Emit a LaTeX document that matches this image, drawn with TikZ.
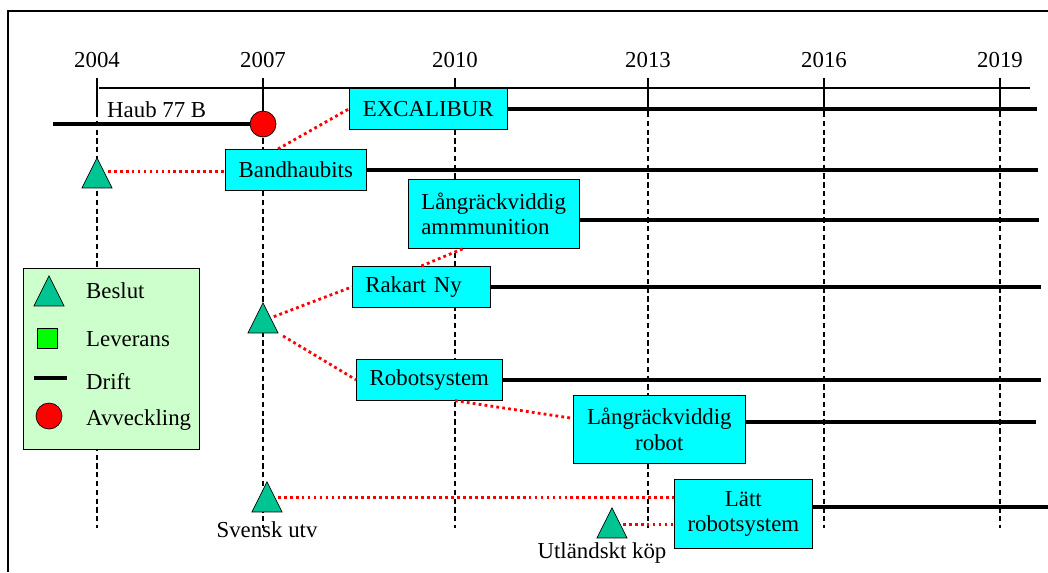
\documentclass[tikz,border=0pt]{standalone}
\usepackage{fontspec}
\setmainfont{Liberation Serif}
\usetikzlibrary{shapes.geometric}
\definecolor{boxcyan}{RGB}{0,255,255}
\definecolor{beslut}{RGB}{0,196,146}
\definecolor{legbg}{RGB}{204,255,204}
\definecolor{lev}{RGB}{0,255,0}
\tikzset{
	every node/.style={font=\rmfamily\fontsize{13}{14.5}\selectfont},
	box/.style={draw, fill=boxcyan, anchor=north west, inner sep=0pt},
	tri/.style={draw, fill=beslut, isosceles triangle, isosceles triangle stretches,
		shape border rotate=90, minimum width=.6cm, minimum height=.6cm, inner sep=0pt, anchor=apex},
	avv/.style={draw, circle, fill=red, minimum size=.52cm, inner sep=0pt},
	drift/.style={line width=2.2pt},
	plan/.style={red, line width=1.6pt, dash pattern=on 1.6pt off 1.8pt},
	yearline/.style={line width=.6pt, dash pattern=on 3pt off 2pt},
}

\begin{document}
\begin{tikzpicture}[x=.02cm, y=-.02cm]
	\useasboundingbox (0, 0) rectangle (1048, 572);
	\draw[line width=.8pt](8, 572)--(8, 11)--(1048, 11);
	% years
	\foreach \yr/\xx in {2004/97, 2007/263, 2010/455, 2013/648, 2016/824, 2019/1000}{
		\node (y\yr) at(\xx, 60){\yr};
		\draw[line width=.6pt](\xx, 78)--(\xx, 112);
		\draw[yearline](\xx, 112)--(\xx, 528);
	}
	\draw[line width=.6pt](99, 88)--(1030, 88);
	% Haub 77 B
	\node[avv] (avv) at(263, 124){};
	\draw[drift](53, 124)--(avv.west);
	\node[anchor=west] (haub) at(101, 110){Haub 77 B};
	% systems
	\node[box, minimum width=3.16cm, minimum height=.82cm] (ex) at(349, 88){EXCALIBUR};
	\node[box, minimum width=2.82cm, minimum height=.82cm] (bh) at(225, 149){Bandhaubits};
	\node[box, minimum width=3.42cm, minimum height=1.38cm, text width=2.9cm, align=left] (am) at(408, 179){Långräckviddig\\ammmunition};
	\node[box, minimum width=2.76cm, minimum height=.82cm, text width=2.24cm, align=left] (rk) at(352, 266){Rakart Ny};
	\node[box, minimum width=2.92cm, minimum height=.82cm] (rs) at(356, 359){Robotsystem};
	\node[box, minimum width=3.44cm, minimum height=1.36cm, align=center] (rb) at(573, 395){Långräckviddig\\robot};
	\node[box, minimum width=2.76cm, minimum height=1.38cm, align=center] (lr) at(674, 479){Lätt\\robotsystem};
	\draw[drift](ex.east)--++(529, 0);
	\draw[drift](bh.east)--++(671, 0);
	\draw[drift]([yshift=-.13cm]am.east)--++(459, 0);
	\draw[drift](rk.east)--++(550, 0);
	\draw[drift](rs.east)--++(538, 0);
	\draw[drift]([yshift=.14cm]rb.east)--++(290, 0);
	\draw[drift]([yshift=.13cm]lr.east)--++(236, 0);
	% beslut
	\node[tri] (t1) at(97, 157){};
	\node[tri] (t2) at(263, 302){};
	\node[tri] (t3) at(267, 481){};
	\node[tri] (t4) at(612, 507){};
	\node (sv) at(267, 530){Svensk utv};
	\node (ut) at(602, 553){Utländskt köp};
	\draw[plan]([xshift=1.06cm]bh.north west)--(ex.west);
	\draw[plan]([yshift=.14cm]t1.east)--([yshift=.14cm]t1.east -| bh.west);
	\draw[plan](rk.north)--([xshift=1.1cm]am.south west);
	\draw[plan]([yshift=.14cm]t2.east)--(rk.west);
	\draw[plan, shorten <=3pt](t2.right corner)--(rs.west);
	\draw[plan]([xshift=1.98cm]rs.south west)--([yshift=.22cm]rb.west);
	\draw[plan]([yshift=.1cm]t3.east)--([yshift=.1cm]t3.east -| lr.west);
	\draw[plan]([yshift=.08cm]t4.east)--([yshift=.08cm]t4.east -| lr.west);
	% legend
	\node[draw, fill=legbg, anchor=north west, minimum width=3.52cm, minimum height=3.62cm, inner sep=0pt] (leg) at(23, 268){};
	\node[tri] (lt) at(49, 275){};
	\node[draw, fill=lev, minimum size=.4cm, inner sep=0pt] (ls) at(47, 338){};
	\draw[drift](34, 378)--(67, 378);
	\node[avv] (lc) at(49, 416){};
	\node[anchor=west] (lb) at(80, 291){Beslut};
	\node[anchor=west] (ll) at(80, 339){Leverans};
	\node[anchor=west] (ld) at(80, 382){Drift};
	\node[anchor=west] (la) at(80, 420){Avveckling};
\end{tikzpicture}
\end{document}
